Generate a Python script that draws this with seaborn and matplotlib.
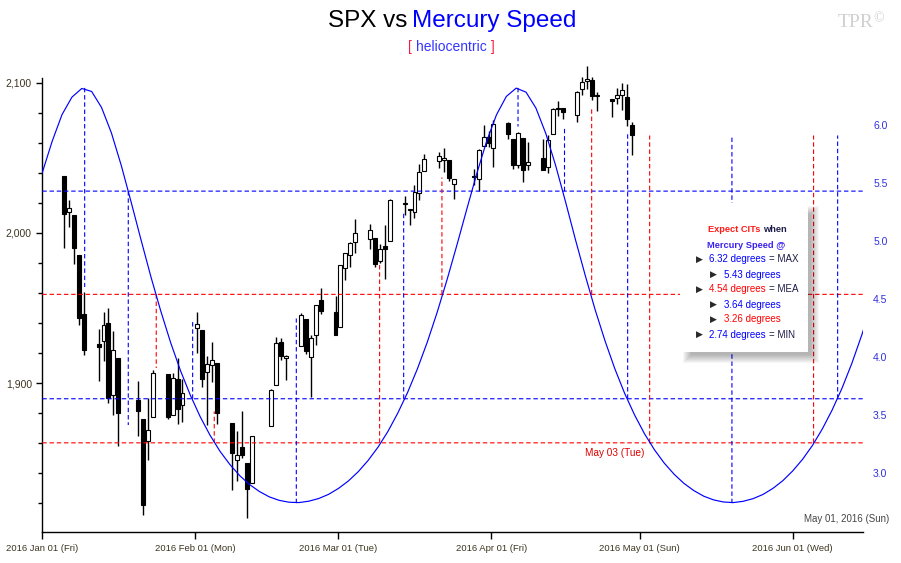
import matplotlib
matplotlib.use("Agg")
import matplotlib.pyplot as plt
import matplotlib.dates as mdates
from matplotlib.patches import Rectangle
from matplotlib.ticker import MultipleLocator, FuncFormatter
import numpy as np
import pandas as pd
import seaborn as sns

W, H = 901, 563

# ---------------- data ----------------
# SPX daily candles (January bars sit one day later on the reference chart)
candle_dates = [
    '2016-01-05', '2016-01-06', '2016-01-07', '2016-01-08', '2016-01-09',
    '2016-01-12', '2016-01-13', '2016-01-14', '2016-01-15', '2016-01-16',
    '2016-01-20', '2016-01-21', '2016-01-22', '2016-01-23', '2016-01-26',
    '2016-01-27', '2016-01-28', '2016-01-29',
    '2016-02-01', '2016-02-02', '2016-02-03', '2016-02-04', '2016-02-05',
    '2016-02-08', '2016-02-09', '2016-02-10', '2016-02-11', '2016-02-12',
    '2016-02-16', '2016-02-17', '2016-02-18', '2016-02-19', '2016-02-22',
    '2016-02-23', '2016-02-24', '2016-02-25', '2016-02-26', '2016-02-29',
    '2016-03-01', '2016-03-02', '2016-03-03', '2016-03-04', '2016-03-07',
    '2016-03-08', '2016-03-09', '2016-03-10', '2016-03-11', '2016-03-14',
    '2016-03-15', '2016-03-16', '2016-03-17', '2016-03-18', '2016-03-21',
    '2016-03-22', '2016-03-23', '2016-03-24', '2016-03-28', '2016-03-29',
    '2016-03-30', '2016-03-31', '2016-04-01', '2016-04-04', '2016-04-05',
    '2016-04-06', '2016-04-07', '2016-04-08', '2016-04-11', '2016-04-12',
    '2016-04-13', '2016-04-14', '2016-04-15', '2016-04-18', '2016-04-19',
    '2016-04-20', '2016-04-21', '2016-04-22', '2016-04-25', '2016-04-26',
    '2016-04-27', '2016-04-28', '2016-04-29',
]
opens = [
    2038.2, 2013.8, 2011.7, 1985.3, 1946.0, 1926.1, 1927.8, 1940.3, 1891.7, 1916.7,
    1888.7, 1876.2, 1861.5, 1877.4, 1906.3, 1878.8, 1902.5, 1885.2,
    1936.9, 1935.3, 1907.1, 1911.7, 1913.1, 1873.3, 1848.5, 1857.1, 1847.0, 1833.4,
    1871.4, 1898.8, 1927.6, 1916.7, 1924.4, 1942.4, 1917.6, 1931.9, 1955.0, 1947.1,
    1937.1, 1976.6, 1985.6, 1994.0, 1996.1, 1996.9, 1981.4, 1991.0, 1994.7, 2019.3,
    2015.3, 2014.2, 2026.9, 2041.2, 2047.9, 2048.6, 2048.6, 2032.5, 2037.9, 2035.8,
    2058.3, 2063.8, 2056.6, 2073.2, 2062.5, 2045.6, 2063.0, 2045.5, 2050.2, 2043.7,
    2065.9, 2082.9, 2083.1, 2078.8, 2096.1, 2101.5, 2102.1, 2091.5, 2089.4, 2089.8,
    2092.3, 2090.9, 2071.8,
]
highs = [
    2038.2, 2021.9, 2011.7, 1985.3, 1960.4, 1935.7, 1947.4, 1950.3, 1934.5, 1916.7,
    1901.4, 1876.2, 1889.9, 1908.9, 1906.3, 1906.7, 1917.0, 1903.0,
    1947.2, 1935.3, 1918.0, 1927.4, 1913.1, 1873.3, 1868.3, 1881.6, 1847.0, 1864.8,
    1895.8, 1930.7, 1930.0, 1918.8, 1946.7, 1942.4, 1932.1, 1951.8, 1963.0, 1958.3,
    1978.4, 1986.5, 1993.7, 2009.1, 2006.1, 1996.9, 1992.7, 2005.1, 2022.4, 2024.6,
    2015.9, 2032.0, 2046.2, 2052.4, 2053.9, 2056.6, 2048.6, 2036.0, 2042.7, 2055.9,
    2072.2, 2067.9, 2075.1, 2074.0, 2062.5, 2067.3, 2063.0, 2060.6, 2062.9, 2065.1,
    2083.2, 2087.8, 2083.2, 2094.7, 2104.1, 2111.1, 2103.8, 2094.3, 2089.4, 2096.9,
    2099.9, 2099.3, 2073.9,
]
lows = [
    1989.7, 2004.2, 1979.1, 1938.8, 1918.5, 1901.1, 1914.4, 1886.4, 1878.9, 1857.8,
    1864.6, 1812.3, 1849.0, 1877.4, 1876.0, 1878.8, 1872.7, 1873.7,
    1920.0, 1897.3, 1872.2, 1900.5, 1872.7, 1828.5, 1834.9, 1850.3, 1810.1, 1833.4,
    1871.4, 1898.8, 1915.1, 1902.2, 1924.4, 1919.4, 1891.0, 1925.4, 1945.8, 1931.8,
    1937.1, 1968.8, 1977.4, 1986.8, 1989.4, 1977.4, 1979.8, 1969.3, 1994.7, 2012.1,
    2005.2, 2010.0, 2022.2, 2041.2, 2043.1, 2040.6, 2034.9, 2022.5, 2032.0, 2028.3,
    2058.3, 2057.5, 2044.0, 2062.6, 2042.6, 2043.1, 2033.8, 2041.7, 2041.9, 2039.7,
    2065.9, 2078.1, 2076.3, 2073.7, 2091.7, 2096.3, 2088.5, 2081.2, 2077.5, 2085.8,
    2082.3, 2071.6, 2052.3,
]
closes = [
    2012.7, 2016.7, 1990.3, 1943.1, 1922.0, 1923.7, 1938.7, 1890.3, 1921.8, 1880.3,
    1881.3, 1819.0, 1869.0, 1906.9, 1877.1, 1903.6, 1883.0, 1893.4,
    1939.4, 1903.0, 1912.5, 1915.5, 1880.1, 1853.4, 1852.2, 1851.9, 1829.1, 1864.8,
    1895.6, 1926.8, 1917.8, 1917.8, 1945.5, 1921.3, 1929.8, 1951.7, 1948.1, 1932.2,
    1978.4, 1986.5, 1993.4, 2000.0, 2001.8, 1979.3, 1989.3, 1989.6, 2022.2, 2019.6,
    2015.9, 2027.2, 2040.6, 2049.6, 2051.6, 2049.8, 2036.7, 2035.9, 2037.1, 2055.0,
    2064.0, 2059.7, 2072.8, 2066.1, 2045.2, 2066.7, 2041.9, 2047.6, 2042.0, 2061.7,
    2082.4, 2082.8, 2080.7, 2094.3, 2100.8, 2102.4, 2091.5, 2091.6, 2087.8, 2091.7,
    2095.2, 2075.8, 2065.3,
]

# heliocentric Mercury speed (degrees/day), one reading every 2 days from Jan 01
speed_start = '2016-01-01'
speed_values = [
    5.59, 5.86, 6.09, 6.24, 6.315, 6.289, 6.151, 5.932, 5.651, 5.335,
    5.010, 4.692, 4.396, 4.124, 3.882, 3.670, 3.484, 3.324, 3.187, 3.073,
    2.977, 2.900, 2.840, 2.794, 2.764, 2.748, 2.745, 2.757, 2.780, 2.816,
    2.867, 2.931, 3.011, 3.108, 3.222, 3.357, 3.515, 3.694, 3.899, 4.129,
    4.386, 4.667, 4.966, 5.275, 5.578, 5.858, 6.087, 6.246, 6.318, 6.283,
    6.146, 5.927, 5.650, 5.338, 5.013, 4.702, 4.407, 4.139, 3.897, 3.684,
    3.499, 3.338, 3.201, 3.085, 2.989, 2.910, 2.848, 2.800, 2.768, 2.750,
    2.745, 2.756, 2.779, 2.815, 2.867, 2.933, 3.017, 3.117, 3.236, 3.378,
    3.542, 3.730, 3.945, 4.188, 4.457,
]

# CIT markers: when the speed hits a level, and the SPX price the dashed line runs to
cit_times = [
    '2016-01-09 14:00', '2016-01-18 10:00', '2016-01-24 02:00', '2016-01-31 11:00',
    '2016-02-04 20:00', '2016-02-21 11:00', '2016-03-09 08:00', '2016-03-14 05:00',
    '2016-03-21 23:00', '2016-04-06 09:00', '2016-04-15 19:00', '2016-04-21 07:00',
    '2016-04-28 14:00', '2016-05-03 01:00', '2016-05-19 17:00', '2016-06-05 06:00',
    '2016-06-10 03:00',
]
cit_levels = [6.32, 5.43, 4.54, 3.64, 3.26, 2.74, 3.26, 3.64, 4.54,
              6.32, 5.43, 4.54, 3.64, 3.26, 2.74, 3.26, 3.64]
cit_prices = [1964, 1872, 1910, 1941, 1881, 1943, 1979, 2014, 2037,
              2071, 2071, 2083, 2066, 2065, 2065, 2065, 2065]

level_lines = [5.43, 4.54, 3.64, 3.26]
month_ticks = ['2016-01-01', '2016-02-01', '2016-03-01', '2016-04-01', '2016-05-01', '2016-06-01']
speed_ticks = [3.0, 3.5, 4.0, 4.5, 5.0, 5.5, 6.0]

# ---------------- style ----------------
sns.set_theme(style="white")
plt.rcParams['font.family'] = ['Liberation Sans', 'DejaVu Sans']

BLUE = '#0000ff'
RED = '#ff0000'
DARK = '#1c1c48'
level_color = {6.32: BLUE, 5.43: BLUE, 4.54: RED, 3.64: BLUE, 3.26: RED, 2.74: BLUE}
DASH = (0, (4, 2.5))
LW_DASH = 0.8

fig = plt.figure(figsize=(W / 100, H / 100), dpi=100)
fig.set_facecolor('white')
ax = fig.add_axes([42.3 / W, 1 - 531.7 / H, (862.7 - 42.3) / W, (531.7 - 78.3) / H])
ax.set_facecolor('white')
ax2 = ax.twinx()

p_lo, p_hi = 1800.87, 2103.13
s_lo, s_hi = 2.4939, 6.4026
ax.set_ylim(p_lo, p_hi)
ax2.set_ylim(s_lo, s_hi)


def price_to_speed(p):
    return s_lo + (np.asarray(p) - p_lo) * (s_hi - s_lo) / (p_hi - p_lo)


# ---- candles ----
cx = mdates.date2num(pd.to_datetime(candle_dates)) + 0.4
o = np.array(opens)
c = np.array(closes)
ax.vlines(cx, lows, highs, color='black', lw=1, zorder=2, clip_on=False)
body_bottom = np.minimum(o, c)
body_h = np.maximum(np.abs(c - o), 0.7)
body_col = np.where(c >= o, 'white', 'black')
ax.bar(cx, body_h, bottom=body_bottom, width=0.8, color=body_col,
       edgecolor='black', linewidth=0.8, zorder=3, clip_on=False)

# ---- Mercury speed curve ----
speed_x = mdates.date2num(pd.date_range(speed_start, periods=len(speed_values), freq='2D'))
sns.lineplot(x=speed_x, y=speed_values, ax=ax2, color=BLUE, lw=0.85, zorder=4)

for lv in level_lines:
    ax2.axhline(lv, color=level_color[lv], lw=LW_DASH, ls=DASH, zorder=3, snap=False)

tx = mdates.date2num(pd.to_datetime(cit_times))
for t, lv, pr in zip(tx, cit_levels, cit_prices):
    ax2.vlines(t, lv, price_to_speed(pr), color=level_color[lv], lw=LW_DASH, ls=DASH,
               zorder=3, snap=False)

# ---- axes ----
x0 = mdates.date2num(pd.Timestamp('2016-01-01'))
ax.set_xlim(x0, x0 + 166.2)
ax2.set_xlabel('')
ax2.set_ylabel('')
ax.grid(False)
ax2.grid(False)

for side in ['top', 'right']:
    ax.spines[side].set_visible(False)
for side in ['left', 'bottom']:
    ax.spines[side].set_color('black')
    ax.spines[side].set_linewidth(1)
for sp in ax2.spines.values():
    sp.set_visible(False)

TICK_TXT = '#3d3520'
mt = pd.to_datetime(month_ticks)
ax.set_xticks(mdates.date2num(mt))
ax.set_xticklabels([d.strftime('%Y %b %d (%a)') for d in mt])
ax.tick_params(axis='x', bottom=True, direction='out', length=5, width=1, color='black',
               labelsize=6.8, labelcolor=TICK_TXT, pad=4)

ax.yaxis.set_major_locator(MultipleLocator(100))
ax.yaxis.set_minor_locator(MultipleLocator(20))
ax.yaxis.set_major_formatter(FuncFormatter(lambda v, _: f'{v:,.0f}'))
ax.tick_params(axis='y', which='major', left=True, direction='out', length=4, width=1,
               color='black', labelsize=7.5, labelcolor=TICK_TXT, pad=3.5)
ax.tick_params(axis='y', which='minor', left=True, direction='out', length=3, width=1,
               color='black')

ax2.set_yticks(speed_ticks)
ax2.set_yticklabels([f'{v:.1f}' for v in speed_ticks])
ax2.tick_params(axis='y', right=True, length=0, pad=7.5, labelsize=7.5, labelcolor='#3030e0')

# ---------------- overlay in pixel coordinates ----------------
ov = fig.add_axes([0, 0, 1, 1], zorder=10)
ov.set_xlim(0, W)
ov.set_ylim(H, 0)
ov.axis('off')


def rich(x, y, parts, size, weight='normal', family=None):
    kw = dict(fontsize=size, fontweight=weight)
    if family:
        kw['family'] = family
    text, col, _ = parts[0]
    t = ov.text(x, y, text, color=col, ha='left', va='baseline', **kw)
    for text, col, gap in parts[1:]:
        t = ov.annotate(text, xy=(1, 0), xycoords=t, xytext=(gap * 0.72, 0),
                        textcoords='offset points', color=col, ha='left', va='bottom', **kw)
    return t


# title
rich(328, 27, [('SPX vs', 'black', 0), ('Mercury Speed', BLUE, 5)], 17.5)
rich(408, 51, [('[', '#ff1744', 0), ('heliocentric', '#3535ff', 4), (']', '#ff1744', 4)], 10)

# watermark
ov.text(838, 27, 'TPR', family='Liberation Serif', fontsize=14, color='#d0d0d0', va='baseline')
ov.text(873, 22, '©', family='Liberation Serif', fontsize=10, color='#d0d0d0', va='baseline')

# legend box with soft shadow
bx, by, bw, bh = 680, 203, 128, 149
for i in range(9):
    pad = 4 - i
    ov.add_patch(Rectangle((bx + 7 - pad, by + 7 - pad), bw + 2 * pad, bh + 2 * pad,
                           facecolor='black', alpha=0.035, lw=0))
ov.add_patch(Rectangle((bx, by), bw, bh, facecolor='white', lw=0))

rich(708, 232.5, [('Expect CITs', '#ff1a1a', 0), ('when', DARK, 3)], 6.7, weight='bold')
rich(707, 247.5, [('Mercury Speed @', '#3a22ee', 0)], 6.7, weight='bold')

legend_rows = [
    (259, 699, 709, '6.32 degrees', BLUE, '= MAX'),
    (274, 713, 724, '5.43 degrees', BLUE, None),
    (289, 699, 709, '4.54 degrees', RED, '= MEA'),
    (304, 713, 724, '3.64 degrees', BLUE, None),
    (319, 713, 724, '3.26 degrees', RED, None),
    (334, 699, 709, '2.74 degrees', BLUE, '= MIN'),
]
for y, ax_x, t_x, label, col, suffix in legend_rows:
    ov.text(ax_x, y + 0.5, '\u25B6', family='DejaVu Sans', fontsize=6.5, color='#2a2a2a',
            ha='center', va='center')
    parts = [(label, col, 0)]
    if suffix:
        parts.append((suffix, DARK, 3))
    rich(t_x, y + 3.5, parts, 7)

ov.text(615, 453, 'May 03 (Tue)', color='#e00000', fontsize=7.2, ha='center', va='center')
ov.text(889, 519, 'May 01, 2016 (Sun)', color='#454545', fontsize=7, ha='right', va='center')

fig.savefig('out.png', dpi=100, facecolor='white')
